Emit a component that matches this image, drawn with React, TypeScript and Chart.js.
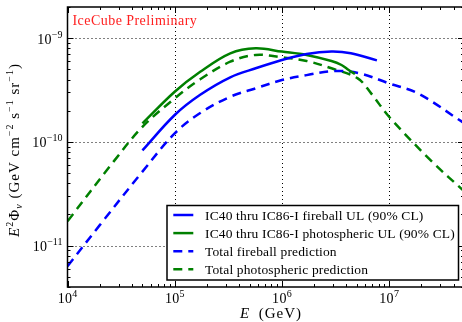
import React, { useEffect, useRef } from 'react';
import { Chart, registerables } from 'chart.js';

Chart.register(...registerables);

// Energies in GeV, fluxes as E^2 Phi_nu in GeV cm^-2 s^-1 sr^-1
const fireballUlEnergy = [5e4, 1e5, 1.73e5, 3.3e5, 5.7e5, 1e6, 1.7e6, 2.9e6, 4.4e6, 7.7e6];
const fireballUlFlux = [8.3e-11, 1.82e-10, 2.85e-10, 4.2e-10, 5.13e-10, 6.17e-10, 7.05e-10, 7.43e-10, 7.16e-10, 6.12e-10];

const photoUlEnergy = [5e4, 1e5, 1.73e5, 3.3e5, 5.7e5, 1e6, 1.7e6, 2.9e6, 3.6e6, 4.2e6, 4.8e6];
const photoUlFlux = [1.51e-10, 3.05e-10, 4.75e-10, 7.16e-10, 8.0e-10, 7.43e-10, 6.9e-10, 6.03e-10, 5.52e-10, 4.94e-10, 4.52e-10];

const fireballPredEnergy = [1e4, 2e4, 5e4, 1e5, 1.73e5, 3.3e5, 5.7e5, 1e6, 1.7e6, 3.1e6, 5.3e6, 1e7, 1.86e7, 5e7];
const fireballPredFlux = [6.35e-12, 1.58e-11, 5.18e-11, 1.21e-10, 1.9e-10, 2.73e-10, 3.29e-10, 3.95e-10, 4.41e-10, 4.83e-10, 4.59e-10, 3.67e-10, 2.94e-10, 1.52e-10];

const photoPredEnergy = [1e4, 2.7e4, 5e4, 1e5, 1.73e5, 3.3e5, 5.7e5, 1e6, 1.7e6, 2.9e6, 5.1e6, 6.8e6, 1e7, 2.5e7, 5e7];
const photoPredFlux = [1.72e-11, 6.5e-11, 1.4e-10, 2.63e-10, 4.02e-10, 5.94e-10, 6.9e-10, 6.55e-10, 6.04e-10, 5.13e-10, 4.1e-10, 2.94e-10, 1.75e-10, 6.5e-11, 3.36e-11];

const seriesLabels = [
  'IC40 thru IC86-I fireball UL (90% CL)',
  'IC40 thru IC86-I photospheric UL (90% CL)',
  'Total fireball prediction',
  'Total photospheric prediction',
];

// Axis ranges and decade ticks
const X_MIN = 1e4;
const X_MAX = 5e7;
const Y_MIN = 4e-12;
const Y_MAX = 2e-9;
const xDecades = [1e4, 1e5, 1e6, 1e7];
const xDecadeExps = ['4', '5', '6', '7'];
const yDecades = [1e-9, 1e-10, 1e-11];
const yDecadeExps = ['\u22129', '\u221210', '\u221211'];

const SERIF = '"Liberation Serif", "DejaVu Serif", serif';
const BLUE = '#0000ff';
const GREEN = '#008000';
const DASH = [9, 6];

type Part = { t: string; f: string; dy?: number; ls?: number };

function drawRich(ctx: CanvasRenderingContext2D, parts: Part[], x: number, y: number, align: 'left' | 'center' | 'right') {
  const c = ctx as any;
  let total = 0;
  const widths = parts.map((p) => {
    ctx.font = p.f;
    c.letterSpacing = `${p.ls || 0}px`;
    const w = ctx.measureText(p.t).width;
    total += w;
    return w;
  });
  let cx = align === 'left' ? x : align === 'center' ? x - total / 2 : x - total;
  ctx.textBaseline = 'alphabetic';
  ctx.textAlign = 'left';
  parts.forEach((p, i) => {
    ctx.font = p.f;
    c.letterSpacing = `${p.ls || 0}px`;
    ctx.fillText(p.t, cx, y + (p.dy || 0));
    cx += widths[i];
  });
  c.letterSpacing = '0px';
}

function minorValues(min: number, max: number) {
  const out: number[] = [];
  const lo = Math.floor(Math.log10(min));
  const hi = Math.ceil(Math.log10(max));
  for (let e = lo; e <= hi; e++) {
    for (let k = 1; k <= 9; k++) {
      const v = k * Math.pow(10, e);
      if (v >= min * 0.999 && v <= max * 1.001) out.push(v);
    }
  }
  return out;
}

const framePlugin = {
  id: 'frame',
  beforeDatasetsDraw(chart: any) {
    const { ctx, chartArea: a, scales } = chart;
    const xs = scales.x;
    const ys = scales.y;
    ctx.save();
    ctx.strokeStyle = '#000';
    ctx.lineWidth = 1;
    ctx.setLineDash([1, 3]);
    xDecades.forEach((v) => {
      const px = Math.round(xs.getPixelForValue(v)) + 0.5;
      if (px <= a.left + 1 || px >= a.right - 1) return;
      ctx.beginPath();
      ctx.moveTo(px, a.top);
      ctx.lineTo(px, a.bottom);
      ctx.stroke();
    });
    yDecades.forEach((v) => {
      const py = Math.round(ys.getPixelForValue(v)) + 0.5;
      ctx.beginPath();
      ctx.moveTo(a.left, py);
      ctx.lineTo(a.right, py);
      ctx.stroke();
    });
    ctx.restore();
  },
  afterDatasetsDraw(chart: any) {
    const { ctx, chartArea: a, scales } = chart;
    const xs = scales.x;
    const ys = scales.y;
    ctx.save();

    // ticks pointing inward on all four sides
    ctx.strokeStyle = '#000';
    ctx.lineWidth = 1;
    ctx.setLineDash([]);
    minorValues(X_MIN, X_MAX).forEach((v) => {
      const major = Math.abs(Math.log10(v) - Math.round(Math.log10(v))) < 1e-6;
      const len = major ? 6 : 3;
      const px = Math.round(xs.getPixelForValue(v)) + 0.5;
      ctx.beginPath();
      ctx.moveTo(px, a.bottom);
      ctx.lineTo(px, a.bottom - len);
      ctx.moveTo(px, a.top);
      ctx.lineTo(px, a.top + len);
      ctx.stroke();
    });
    minorValues(Y_MIN, Y_MAX).forEach((v) => {
      const major = Math.abs(Math.log10(v) - Math.round(Math.log10(v))) < 1e-6;
      const len = major ? 6 : 3;
      const py = Math.round(ys.getPixelForValue(v)) + 0.5;
      ctx.beginPath();
      ctx.moveTo(a.left, py);
      ctx.lineTo(a.left + len, py);
      ctx.moveTo(a.right, py);
      ctx.lineTo(a.right - len, py);
      ctx.stroke();
    });

    // axes frame
    ctx.lineWidth = 1.5;
    ctx.strokeRect(a.left, a.top, a.right - a.left, a.bottom - a.top);

    // tick labels
    ctx.fillStyle = '#000';
    xDecades.forEach((v, i) => {
      const px = xs.getPixelForValue(v);
      drawRich(ctx, [
        { t: '10', f: `14px ${SERIF}`, ls: 0.3 },
        { t: xDecadeExps[i], f: `10px ${SERIF}`, dy: -6 },
      ], px, 303, 'center');
    });
    yDecades.forEach((v, i) => {
      const py = ys.getPixelForValue(v);
      drawRich(ctx, [
        { t: '10', f: `14px ${SERIF}`, ls: 0.3 },
        { t: yDecadeExps[i], f: `10px ${SERIF}`, dy: -6 },
      ], a.left - 5, py + 5.5, 'right');
    });

    // axis titles
    drawRich(ctx, [
      { t: 'E', f: `italic 15px ${SERIF}` },
      { t: '  (GeV)', f: `15px ${SERIF}`, ls: 1 },
    ], 271, 318, 'center');

    ctx.save();
    ctx.translate(19, 150);
    ctx.rotate(-Math.PI / 2);
    drawRich(ctx, [
      { t: 'E', f: `italic 15px ${SERIF}`, ls: 1 },
      { t: '2', f: `10px ${SERIF}`, dy: -6, ls: 1 },
      { t: '\u03A6', f: `15px ${SERIF}`, ls: 1 },
      { t: '\u03BD', f: `italic 10px ${SERIF}`, dy: 3, ls: 1 },
      { t: ' (GeV cm', f: `15px ${SERIF}`, ls: 1 },
      { t: '\u22122', f: `10px ${SERIF}`, dy: -6, ls: 1 },
      { t: ' s', f: `15px ${SERIF}`, ls: 1 },
      { t: '\u22121', f: `10px ${SERIF}`, dy: -6, ls: 1 },
      { t: ' sr', f: `15px ${SERIF}`, ls: 1 },
      { t: '\u22121', f: `10px ${SERIF}`, dy: -6, ls: 1 },
      { t: ')', f: `15px ${SERIF}`, ls: 1 },
    ], 0, 0, 'center');
    ctx.restore();

    // watermark
    ctx.fillStyle = '#ff2020';
    drawRich(ctx, [{ t: 'IceCube Preliminary', f: `14px ${SERIF}`, ls: 0.45 }], a.left + 5, 25, 'left');

    // legend box in the lower right of the axes
    const lx = 167;
    const ly = 205.5;
    const lw = 291.5;
    const lh = 74.5;
    ctx.fillStyle = '#fff';
    ctx.fillRect(lx, ly, lw, lh);
    ctx.strokeStyle = '#000';
    ctx.lineWidth = 1.5;
    ctx.strokeRect(lx, ly, lw, lh);
    chart.data.datasets.forEach((ds: any, i: number) => {
      const ry = 215 + i * 18.1;
      ctx.strokeStyle = ds.borderColor;
      ctx.lineWidth = ds.borderWidth;
      ctx.setLineDash(ds.borderDash || []);
      ctx.lineCap = 'butt';
      ctx.beginPath();
      ctx.moveTo(173.3, ry);
      ctx.lineTo(193.3, ry);
      ctx.stroke();
      ctx.setLineDash([]);
      ctx.fillStyle = '#000';
      drawRich(ctx, [{ t: ds.label, f: `13.5px ${SERIF}`, ls: 0.15 }], 205, ry + 4.5, 'left');
    });

    ctx.restore();
  },
};

const toPoints = (xs: number[], ys: number[]) => xs.map((x, i) => ({ x, y: ys[i] }));

export default function App() {
  const canvasRef = useRef<HTMLCanvasElement | null>(null);

  useEffect(() => {
    if (!canvasRef.current) return;
    const common = {
      pointRadius: 0,
      borderWidth: 2.5,
      fill: false,
      tension: 0.35,
      borderCapStyle: 'butt' as const,
    };
    const chart = new Chart(canvasRef.current, {
      type: 'line',
      data: {
        datasets: [
          { ...common, label: seriesLabels[0], data: toPoints(fireballUlEnergy, fireballUlFlux), borderColor: BLUE, borderDash: [] },
          { ...common, label: seriesLabels[1], data: toPoints(photoUlEnergy, photoUlFlux), borderColor: GREEN, borderDash: [] },
          { ...common, label: seriesLabels[2], data: toPoints(fireballPredEnergy, fireballPredFlux), borderColor: BLUE, borderDash: DASH },
          { ...common, label: seriesLabels[3], data: toPoints(photoPredEnergy, photoPredFlux), borderColor: GREEN, borderDash: DASH },
        ],
      },
      options: {
        responsive: false,
        animation: false,
        devicePixelRatio: 1,
        layout: { padding: { left: 67.5, top: 7, right: 2, bottom: 35 } },
        scales: {
          x: { type: 'logarithmic', min: X_MIN, max: X_MAX, display: false },
          y: { type: 'logarithmic', min: Y_MIN, max: Y_MAX, display: false },
        },
        plugins: {
          legend: { display: false },
          tooltip: { enabled: false },
        },
      },
      plugins: [framePlugin],
    });
    return () => chart.destroy();
  }, []);

  return (
    <div style={{ position: 'fixed', left: 0, top: 0, width: 462, height: 322, overflow: 'hidden', background: '#fff' }}>
      <canvas ref={canvasRef} width={466} height={322} style={{ display: 'block' }} />
    </div>
  );
}
